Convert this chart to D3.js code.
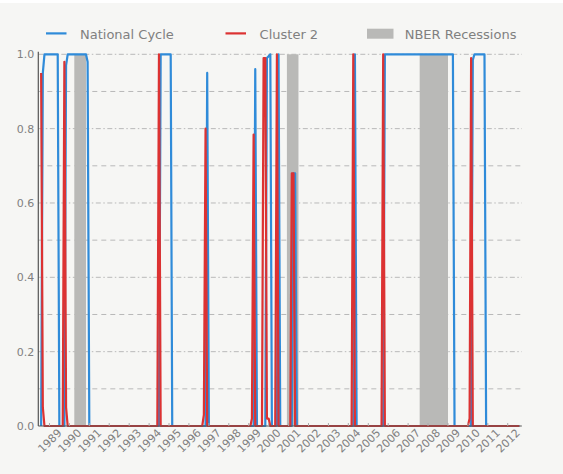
<!DOCTYPE html>
<html>
<head>
<meta charset="utf-8">
<script src="https://cdn.jsdelivr.net/npm/d3@7"></script>
<style>
  html, body { margin: 0; padding: 0; background: #ffffff; }
  svg { display: block; }
  text { font-family: "DejaVu Sans", sans-serif; }
</style>
</head>
<body>
<svg id="chart" width="563" height="474"></svg>
<script>
// ---------------- data ----------------
const seriesNames = ["National Cycle", "Cluster 2", "NBER Recessions"];

const nationalCycle = [
  ["1988-08", 0], ["1988-09", 0.95], ["1988-10", 1], ["1989-06", 1], ["1989-07", 0],
  ["1989-10", 0], ["1989-11", 0.97], ["1989-12", 1], ["1990-11", 1], ["1990-12", 0.98], ["1991-01", 0],
  ["1994-07", 0], ["1994-08", 1], ["1995-02", 1], ["1995-03", 0],
  ["1996-11", 0], ["1996-12", 0.95], ["1997-01", 0],
  ["1999-04", 0], ["1999-05", 0.96], ["1999-06", 0],
  ["1999-11", 0], ["1999-12", 0.99], ["2000-01", 0.995], ["2000-02", 1], ["2000-03", 0],
  ["2000-06", 0], ["2000-07", 1], ["2000-08", 0],
  ["2001-03", 0], ["2001-04", 0.68], ["2001-05", 0.68], ["2001-06", 0],
  ["2004-04", 0], ["2004-05", 1], ["2004-06", 0],
  ["2005-10", 0], ["2005-11", 1], ["2009-04", 1], ["2009-05", 0],
  ["2010-03", 0], ["2010-04", 0.985], ["2010-05", 1], ["2010-11", 1], ["2010-12", 0],
  ["2012-08", 0]
];

const cluster2 = [
  ["1988-08", 0.95], ["1988-09", 0.05], ["1988-10", 0],
  ["1989-09", 0], ["1989-10", 0.98], ["1989-11", 0.05], ["1989-12", 0],
  ["1994-06", 0], ["1994-07", 1], ["1994-08", 0],
  ["1996-09", 0], ["1996-10", 0.03], ["1996-11", 0.80], ["1996-12", 0],
  ["1999-02", 0], ["1999-03", 0.02], ["1999-04", 0.784], ["1999-05", 0],
  ["1999-09", 0], ["1999-10", 0.99], ["1999-11", 0.99], ["1999-12", 0.02], ["2000-01", 0.02], ["2000-02", 0],
  ["2000-05", 0], ["2000-06", 1], ["2000-07", 0],
  ["2001-02", 0], ["2001-03", 0.68], ["2001-04", 0.68], ["2001-05", 0],
  ["2004-03", 0], ["2004-04", 1], ["2004-05", 0],
  ["2005-09", 0], ["2005-10", 1], ["2005-11", 0],
  ["2010-01", 0], ["2010-02", 0.02], ["2010-03", 0.99], ["2010-04", 0],
  ["2012-08", 0]
];

const recessions = [
  ["1990-04", "1990-11"],
  ["2000-12", "2001-07"],
  ["2007-08", "2009-01"]
];

const yearTicks = d3.range(1989, 2013);
const yTicksMajor = [0, 0.2, 0.4, 0.6, 0.8, 1.0];
const yTicksMinor = [0.1, 0.3, 0.5, 0.7, 0.9];
const xDomain = ["1988-06-10", "2012-09-15"];

// ---------------- drawing ----------------
const parse = d3.timeParse("%Y-%m");
const parseDay = d3.timeParse("%Y-%m-%d");
const W = 563, H = 474;
const plot = { left: 38.3, right: 521.8, top: 54.3, bottom: 426 };

const svg = d3.select("#chart");
svg.append("rect").attr("x", 0).attr("y", 3).attr("width", W).attr("height", H - 3).attr("fill", "#f6f6f4");

const x = d3.scaleTime()
  .domain(xDomain.map(parseDay))
  .range([plot.left, plot.right]);
const y = d3.scaleLinear().domain([0, 1]).range([plot.bottom, plot.top]);

const gridColor = "#b9b9b9";
// minor gridlines
svg.append("g").selectAll("line").data(yTicksMinor).join("line")
  .attr("x1", plot.left).attr("x2", plot.right)
  .attr("y1", d => y(d)).attr("y2", d => y(d))
  .attr("stroke", gridColor).attr("stroke-width", 1)
  .attr("stroke-dasharray", "5,4");
// major gridlines
svg.append("g").selectAll("line").data(yTicksMajor.filter(d => d > 0)).join("line")
  .attr("x1", plot.left).attr("x2", plot.right)
  .attr("y1", d => y(d)).attr("y2", d => y(d))
  .attr("stroke", gridColor).attr("stroke-width", 1)
  .attr("stroke-dasharray", "5,2.5,1.5,2.5");

// recessions
svg.append("g").selectAll("rect").data(recessions).join("rect")
  .attr("x", d => x(parse(d[0])))
  .attr("width", d => x(parse(d[1])) - x(parse(d[0])))
  .attr("y", y(1)).attr("height", y(0) - y(1))
  .attr("fill", "#b9b9b7");

// lines
const line = d3.line().x(d => x(parse(d[0]))).y(d => y(d[1]));
svg.append("path").datum(nationalCycle).attr("d", line)
  .attr("fill", "none").attr("stroke", "#2f8bd9").attr("stroke-width", 2.2)
  .attr("stroke-linejoin", "round");
svg.append("path").datum(cluster2).attr("d", line)
  .attr("fill", "none").attr("stroke", "#dc3232").attr("stroke-width", 2.2)
  .attr("stroke-linejoin", "round");

// axes
const axisColor = "#555555";
const labelColor = "#808080";
svg.append("line").attr("x1", plot.left).attr("x2", plot.left)
  .attr("y1", 51.8).attr("y2", plot.bottom).attr("stroke", axisColor).attr("stroke-width", 1.2);
svg.append("line").attr("x1", plot.left).attr("x2", plot.right)
  .attr("y1", plot.bottom).attr("y2", plot.bottom).attr("stroke", axisColor).attr("stroke-width", 1.2);

// y tick labels
svg.append("g").selectAll("text").data(yTicksMajor).join("text")
  .attr("x", 34.3).attr("y", d => y(d) + 4)
  .attr("text-anchor", "end").attr("font-size", 11).attr("fill", labelColor)
  .text(d => d.toFixed(1));

// x ticks (inward) and rotated labels
const yearDate = yr => new Date(yr, 0, 1);
svg.append("g").selectAll("line").data(yearTicks).join("line")
  .attr("x1", d => x(yearDate(d))).attr("x2", d => x(yearDate(d)))
  .attr("y1", plot.bottom).attr("y2", plot.bottom - 3)
  .attr("stroke", "#aaaaaa").attr("stroke-width", 1);
svg.append("g").selectAll("text").data(yearTicks).join("text")
  .attr("transform", d => `translate(${x(yearDate(d)) + 0.5},${441}) rotate(-45)`)
  .attr("text-anchor", "middle").attr("dominant-baseline", "central")
  .attr("font-size", 11).attr("fill", labelColor)
  .text(d => d);

// legend
const leg = svg.append("g");
const legendItems = [
  { name: seriesNames[0], type: "line", color: "#2f8bd9", x0: 46, tx: 80 },
  { name: seriesNames[1], type: "line", color: "#dc3232", x0: 225.5, tx: 259.6 },
  { name: seriesNames[2], type: "patch", color: "#b9b9b7", x0: 367, tx: 404.7 }
];
legendItems.forEach(it => {
  if (it.type === "line") {
    leg.append("line").attr("x1", it.x0).attr("x2", it.x0 + 20.5)
      .attr("y1", 33.4).attr("y2", 33.4).attr("stroke", it.color).attr("stroke-width", 2.2);
  } else {
    leg.append("rect").attr("x", it.x0).attr("y", 28.7).attr("width", 26.5).attr("height", 10)
      .attr("fill", it.color);
  }
  leg.append("text").attr("x", it.tx).attr("y", 38.5)
    .attr("font-size", 13).attr("fill", labelColor).text(it.name);
});
</script>
</body>
</html>
